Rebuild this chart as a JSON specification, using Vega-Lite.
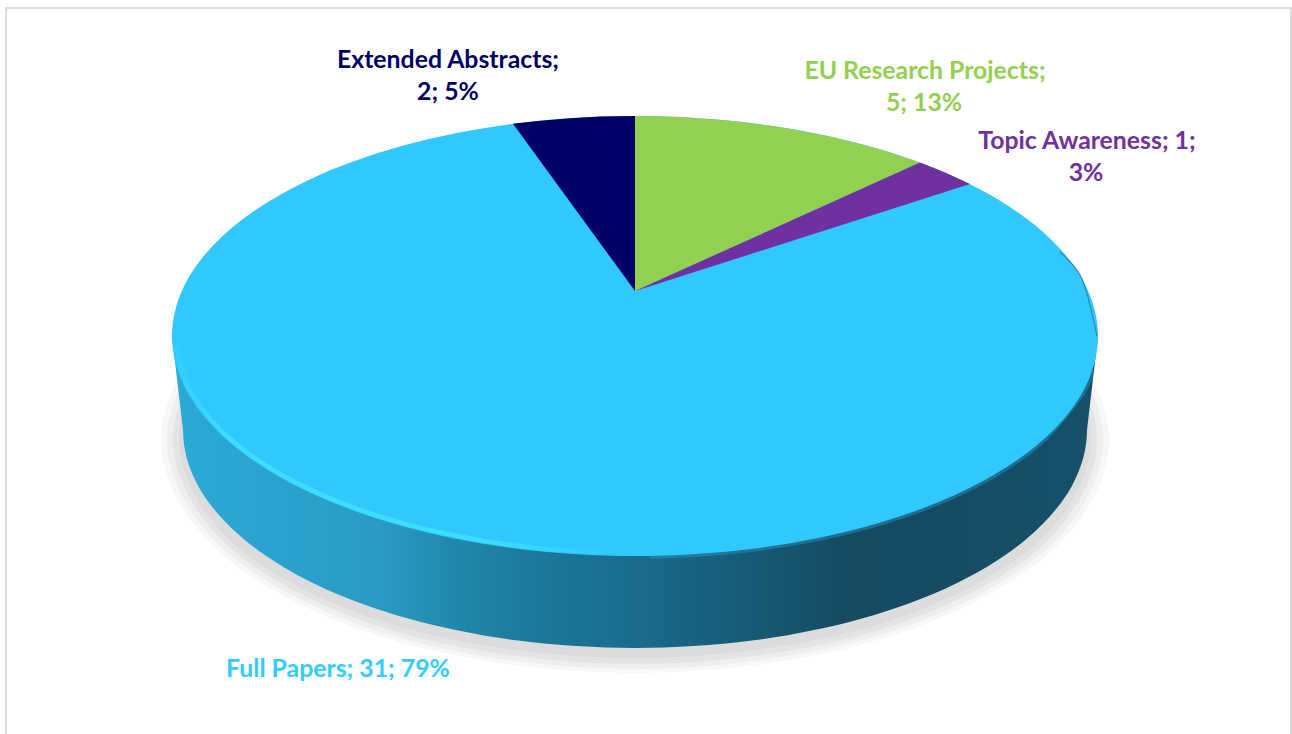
{
"$schema":"https://vega.github.io/schema/vega-lite/v6.json",
"width":1292,"height":734,"padding":0,"autosize":"none",
"background":"white","config":{"view":{"stroke":null}},
"datasets":{
"frame":[{"o":0,"x":6,"y":734},{"o":1,"x":6,"y":8},{"o":2,"x":1291,"y":8},{"o":3,"x":1291,"y":734}],
"s1":[{"o":0,"x":1091,"y":440},{"o":1,"x":1029.9,"y":549},{"o":2,"x":863,"y":628.8},{"o":3,"x":635,"y":658},{"o":4,"x":407,"y":628.8},{"o":5,"x":240.1,"y":549},{"o":6,"x":179,"y":440},{"o":7,"x":240.1,"y":331},{"o":8,"x":407,"y":251.2},{"o":9,"x":635,"y":222},{"o":10,"x":863,"y":251.2},{"o":11,"x":1029.9,"y":331}],
"s2":[{"o":0,"x":1097,"y":440},{"o":1,"x":1035.1,"y":552},{"o":2,"x":866,"y":634},{"o":3,"x":635,"y":664},{"o":4,"x":404,"y":634},{"o":5,"x":234.9,"y":552},{"o":6,"x":173,"y":440},{"o":7,"x":234.9,"y":328},{"o":8,"x":404,"y":246},{"o":9,"x":635,"y":216},{"o":10,"x":866,"y":246},{"o":11,"x":1035.1,"y":328}],
"s3":[{"o":0,"x":1103,"y":440},{"o":1,"x":1040.3,"y":554.5},{"o":2,"x":869,"y":638.3},{"o":3,"x":635,"y":669},{"o":4,"x":401,"y":638.3},{"o":5,"x":229.7,"y":554.5},{"o":6,"x":167,"y":440},{"o":7,"x":229.7,"y":325.5},{"o":8,"x":401,"y":241.7},{"o":9,"x":635,"y":211},{"o":10,"x":869,"y":241.7},{"o":11,"x":1040.3,"y":325.5}],
"s4":[{"o":0,"x":1109,"y":440},{"o":1,"x":1045.5,"y":556.5},{"o":2,"x":872,"y":641.8},{"o":3,"x":635,"y":673},{"o":4,"x":398,"y":641.8},{"o":5,"x":224.5,"y":556.5},{"o":6,"x":161,"y":440},{"o":7,"x":224.5,"y":323.5},{"o":8,"x":398,"y":238.2},{"o":9,"x":635,"y":207},{"o":10,"x":872,"y":238.2},{"o":11,"x":1045.5,"y":323.5}],
"wall":[{"o":0,"x":1087,"y":430},{"o":1,"x":1071.6,"y":486.4},{"o":2,"x":1026.4,"y":539},{"o":3,"x":954.6,"y":584.2},{"o":4,"x":861,"y":618.8},{"o":5,"x":752,"y":640.6},{"o":6,"x":635,"y":648},{"o":7,"x":518,"y":640.6},{"o":8,"x":409,"y":618.8},{"o":9,"x":315.4,"y":584.2},{"o":10,"x":243.6,"y":539},{"o":11,"x":198.4,"y":486.4},{"o":12,"x":183,"y":430},{"o":13,"x":198.4,"y":373.6},{"o":14,"x":243.6,"y":321},{"o":15,"x":315.4,"y":275.8},{"o":16,"x":409,"y":241.2},{"o":17,"x":518,"y":219.4},{"o":18,"x":635,"y":212},{"o":19,"x":752,"y":219.4},{"o":20,"x":861,"y":241.2},{"o":21,"x":954.6,"y":275.8},{"o":22,"x":1026.4,"y":321},{"o":23,"x":1071.6,"y":373.6}],
"side":[{"o":0,"x":172,"y":336},{"o":1,"x":1098,"y":336},{"o":2,"x":1087,"y":430},{"o":3,"x":183,"y":430}],
"top":[{"o":0,"x":1098,"y":336},{"o":1,"x":1082.2,"y":392.9},{"o":2,"x":1036,"y":446},{"o":3,"x":962.4,"y":491.6},{"o":4,"x":866.5,"y":526.5},{"o":5,"x":754.8,"y":548.5},{"o":6,"x":635,"y":556},{"o":7,"x":515.2,"y":548.5},{"o":8,"x":403.5,"y":526.5},{"o":9,"x":307.6,"y":491.6},{"o":10,"x":234,"y":446},{"o":11,"x":187.8,"y":392.9},{"o":12,"x":172,"y":336},{"o":13,"x":187.8,"y":279.1},{"o":14,"x":234,"y":226},{"o":15,"x":307.6,"y":180.4},{"o":16,"x":403.5,"y":145.5},{"o":17,"x":515.2,"y":123.5},{"o":18,"x":635,"y":116},{"o":19,"x":754.8,"y":123.5},{"o":20,"x":866.5,"y":145.5},{"o":21,"x":962.4,"y":180.4},{"o":22,"x":1036,"y":226},{"o":23,"x":1082.2,"y":279.1}],
"slices":[
{"slice":"Extended Abstracts","o":0,"x":635,"y":291},{"slice":"Extended Abstracts","o":1,"x":513,"y":123.8},{"slice":"Extended Abstracts","o":2,"x":540,"y":120.7},{"slice":"Extended Abstracts","o":3,"x":570,"y":118.2},{"slice":"Extended Abstracts","o":4,"x":600,"y":116.6},{"slice":"Extended Abstracts","o":5,"x":635,"y":116},
{"slice":"EU Research Projects","o":0,"x":635,"y":291},{"slice":"EU Research Projects","o":1,"x":635,"y":116},{"slice":"EU Research Projects","o":2,"x":680,"y":117},{"slice":"EU Research Projects","o":3,"x":730,"y":120.7},{"slice":"EU Research Projects","o":4,"x":780,"y":127.1},{"slice":"EU Research Projects","o":5,"x":830,"y":136.5},{"slice":"EU Research Projects","o":6,"x":880,"y":149.3},{"slice":"EU Research Projects","o":7,"x":920,"y":162.6},
{"slice":"Topic Awareness","o":0,"x":635,"y":291},{"slice":"Topic Awareness","o":1,"x":920,"y":162.6},{"slice":"Topic Awareness","o":2,"x":945,"y":172.6},{"slice":"Topic Awareness","o":3,"x":970,"y":184.1}],
"rim":[{"o":0,"x":176,"y":345},{"o":1,"x":190.7,"y":392.2},{"o":2,"x":236.6,"y":444.5},{"o":3,"x":309.7,"y":489.4},{"o":4,"x":405,"y":523.9},{"o":5,"x":516,"y":545.6},{"o":6,"x":610,"y":552.5}],
"shade":[{"o":0,"x":1090,"y":370},{"o":1,"x":1082,"y":392.9},{"o":2,"x":1036,"y":446},{"o":3,"x":962.4,"y":491.6},{"o":4,"x":866.5,"y":526.5},{"o":5,"x":754.8,"y":548.5},{"o":6,"x":650,"y":556}],
"edge":[{"o":0,"x":1060,"y":252},{"o":1,"x":1082,"y":279},{"o":2,"x":1097,"y":336}],
"labels":[
{"slice":"Extended Abstracts","text":"Extended Abstracts;","x":448,"y":60.5},
{"slice":"Extended Abstracts","text":"2; 5%","x":448,"y":93},
{"slice":"EU Research Projects","text":"EU Research Projects;","x":925,"y":71.5},
{"slice":"EU Research Projects","text":"5; 13%","x":924,"y":104},
{"slice":"Topic Awareness","text":"Topic Awareness; 1;","x":1087,"y":141.5},
{"slice":"Topic Awareness","text":"3%","x":1086,"y":173.5},
{"slice":"Full Papers","text":"Full Papers; 31; 79%","x":338,"y":669.5}]
},
"encoding":{
"x":{"field":"x","type":"quantitative","axis":null,"scale":{"domain":[0,1292],"nice":false,"zero":false}},
"y":{"field":"y","type":"quantitative","axis":null,"scale":{"domain":[734,0],"nice":false,"zero":false}},
"order":{"field":"o","type":"quantitative"}
},
"layer":[
{"data":{"name":"frame"},"mark":{"type":"line","stroke":"#dcdcdc","strokeWidth":2}},
{"data":{"name":"s4"},"mark":{"type":"line","interpolate":"cardinal-closed","fill":"#000000","fillOpacity":0.03,"stroke":null}},
{"data":{"name":"s3"},"mark":{"type":"line","interpolate":"cardinal-closed","fill":"#000000","fillOpacity":0.035,"stroke":null}},
{"data":{"name":"s2"},"mark":{"type":"line","interpolate":"cardinal-closed","fill":"#000000","fillOpacity":0.04,"stroke":null}},
{"data":{"name":"s1"},"mark":{"type":"line","interpolate":"cardinal-closed","fill":"#000000","fillOpacity":0.03,"stroke":null}},
{"data":{"name":"wall"},"mark":{"type":"line","interpolate":"cardinal-closed","stroke":null,"fill":{"gradient":"linear","x1":0,"x2":1,"y1":0,"y2":0,"stops":[{"offset":0,"color":"#2ca9d6"},{"offset":0.16,"color":"#2a9fca"},{"offset":0.22,"color":"#2a9ac4"},{"offset":0.295,"color":"#2189ad"},{"offset":0.406,"color":"#1c7698"},{"offset":0.517,"color":"#19698a"},{"offset":0.627,"color":"#175a75"},{"offset":0.738,"color":"#154a60"},{"offset":1,"color":"#16506a"}]}}},
{"data":{"name":"side"},"mark":{"type":"line","stroke":null,"fill":{"gradient":"linear","x1":0,"x2":1,"y1":0,"y2":0,"stops":[{"offset":0,"color":"#2ca9d6"},{"offset":0.16,"color":"#2a9fca"},{"offset":0.22,"color":"#2a9ac4"},{"offset":0.295,"color":"#2189ad"},{"offset":0.406,"color":"#1c7698"},{"offset":0.517,"color":"#19698a"},{"offset":0.627,"color":"#175a75"},{"offset":0.738,"color":"#154a60"},{"offset":1,"color":"#16506a"}]}}},
{"data":{"name":"shade"},"mark":{"type":"line","interpolate":"cardinal","stroke":"#2a98c4","strokeWidth":6,"strokeOpacity":0.45}},
{"data":{"name":"top"},"mark":{"type":"line","interpolate":"cardinal-closed","fill":"#30c8ff","stroke":null}},
{"data":{"name":"edge"},"mark":{"type":"line","interpolate":"cardinal","stroke":"#2a7a9a","strokeWidth":1.2,"strokeOpacity":0.8}},
{"data":{"name":"rim"},"mark":{"type":"line","interpolate":"cardinal","strokeWidth":4.5,"strokeOpacity":0.85,"stroke":{"gradient":"linear","x1":0,"x2":1,"y1":0,"y2":0,"stops":[{"offset":0,"color":"#33cfff"},{"offset":0.12,"color":"#3ee2ff"},{"offset":0.7,"color":"#3ee2ff"},{"offset":1,"color":"#31c9ff"}]}}},
{"data":{"name":"slices"},"mark":{"type":"line","stroke":null},"encoding":{"detail":{"field":"slice"},"fill":{"field":"slice","type":"nominal","legend":null,"scale":{"domain":["Extended Abstracts","EU Research Projects","Topic Awareness","Full Papers"],"range":["#000066","#92d050","#7030a0","#33ccff"]}}}},
{"data":{"name":"labels"},"mark":{"type":"text","font":"Lato","fontWeight":"bold","fontSize":24.8,"align":"center","baseline":"middle"},"encoding":{"order":{"value":null},"text":{"field":"text"},"fill":{"field":"slice","type":"nominal","legend":null,"scale":{"domain":["Extended Abstracts","EU Research Projects","Topic Awareness","Full Papers"],"range":["#000066","#92d050","#7030a0","#33ccff"]}}}}
]
}
